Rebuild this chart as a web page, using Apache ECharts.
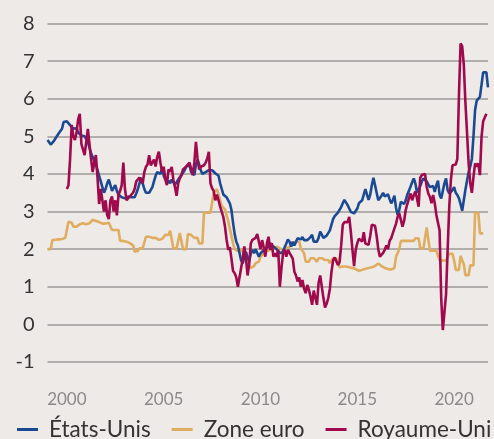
<!DOCTYPE html>
<html><head><meta charset="utf-8">
<script src="https://cdn.jsdelivr.net/npm/echarts@6/dist/echarts.min.js"></script>
<style>html,body{margin:0;padding:0;background:#eeeae7;}#c{width:494px;height:439px;}</style>
</head><body><div id="c"></div>
<script>
// Monthly data, first month = January 1999
const startYear = 1999;
const seriesNames = ['États-Unis', 'Zone euro', 'Royaume-Uni'];
const xTickLabels = [2000, 2005, 2010, 2015, 2020];
const yTicks = [-1, 0, 1, 2, 3, 4, 5, 6, 7, 8];

// États-Unis, from Jan 1999
const usValues = [
 4.9,4.85,4.78,4.8,4.88,4.95,5.0,5.08,5.12,5.2,5.38,5.4,
 5.4,5.35,5.3,5.3,5.2,5.15,5.22,5.1,5.05,5.02,5.0,5.0,
 4.95,4.85,4.7,4.55,4.45,4.35,4.25,4.1,3.95,3.8,3.65,3.5,
 3.6,3.75,3.85,3.7,3.55,3.6,3.7,3.55,3.45,3.4,3.38,3.4,
 3.35,3.35,3.4,3.4,3.38,3.35,3.38,3.48,3.6,3.75,3.9,3.75,
 3.6,3.5,3.55,3.5,3.55,3.65,3.8,3.95,4.05,4.1,4.0,4.15,
 3.95,3.85,3.75,3.82,3.75,3.85,3.78,3.72,3.78,3.85,3.8,3.97,
 3.95,4.1,4.2,4.15,4.23,4.05,4.1,3.97,4.25,4.37,4.25,4.1,
 4.0,3.97,4.05,4.1,4.1,4.1,4.1,4.05,4.02,4.0,3.95,3.75,
 3.6,3.45,3.4,3.38,3.3,3.22,3.04,2.7,2.4,2.2,2.1,1.9,
 1.7,1.62,1.8,1.93,1.78,1.67,1.89,1.98,1.89,2.0,1.9,1.8,
 1.89,1.93,1.98,1.93,2.02,2.07,2.16,2.2,2.07,2.11,2.0,1.93,
 1.98,1.89,1.95,2.05,2.15,2.26,2.2,2.07,2.2,2.1,2.2,2.29,
 2.32,2.26,2.32,2.24,2.2,2.24,2.2,2.32,2.38,2.2,2.15,2.2,
 2.3,2.47,2.45,2.3,2.33,2.36,2.4,2.5,2.65,2.8,2.88,2.93,
 2.97,3.02,3.12,3.22,3.31,3.3,3.17,3.08,2.99,3.04,2.95,2.99,
 3.08,3.22,3.17,3.3,3.45,3.6,3.45,3.31,3.45,3.7,3.9,3.85,
 3.5,3.3,3.3,3.42,3.5,3.4,3.35,3.46,3.33,3.22,3.3,3.42,
 3.1,2.91,3.04,3.26,3.31,3.2,3.3,3.45,3.55,3.6,3.78,3.88,
 3.75,3.5,3.55,3.68,3.8,3.88,3.88,3.8,3.72,3.65,3.62,3.68,
 3.52,3.7,3.82,3.45,3.35,3.55,3.75,3.88,3.57,3.48,3.48,3.57,
 3.65,3.5,3.44,3.35,3.2,3.02,3.3,3.58,3.82,4.05,4.2,4.4,
 5.0,5.7,5.95,6.0,6.05,6.1,6.7,6.7,6.7,6.3
];

// Zone euro, from Jan 1999
const euroValues = [
 2.0,2.0,2.0,2.24,2.24,2.25,2.25,2.26,2.27,2.27,2.28,2.3,
 2.32,2.73,2.73,2.7,2.6,2.6,2.6,2.64,2.66,2.66,2.69,2.69,
 2.66,2.66,2.69,2.69,2.78,2.78,2.75,2.72,2.72,2.68,2.68,2.7,
 2.68,2.66,2.7,2.7,2.51,2.51,2.51,2.51,2.51,2.22,2.22,2.22,
 2.22,2.2,2.2,2.16,2.13,2.1,1.93,1.93,1.95,2.02,2.02,2.02,
 2.05,2.33,2.33,2.33,2.33,2.3,2.3,2.3,2.25,2.25,2.25,2.27,
 2.27,2.38,2.38,2.38,2.49,2.49,2.02,2.02,2.02,2.02,2.43,2.43,
 2.0,2.0,2.0,2.4,2.4,2.38,2.38,2.3,2.3,2.3,2.15,2.15,
 2.15,2.97,2.97,2.97,2.97,2.97,2.98,3.5,3.55,3.6,3.65,3.3,
 3.15,3.12,3.05,2.9,2.75,2.55,2.35,2.15,2.0,1.95,1.95,1.98,
 2.0,1.95,1.85,1.7,1.6,1.55,1.5,1.5,1.55,1.63,1.67,1.67,
 1.8,1.85,1.89,1.92,1.95,1.98,1.98,2.0,2.02,2.05,2.07,2.05,
 2.02,2.0,1.98,2.0,2.02,2.05,2.07,2.09,2.11,2.15,2.2,2.2,
 2.2,2.02,1.98,1.89,1.67,1.67,1.67,1.76,1.76,1.76,1.72,1.67,
 1.76,1.76,1.76,1.76,1.71,1.71,1.71,1.63,1.63,1.76,1.8,1.76,
 1.76,1.52,1.54,1.54,1.54,1.54,1.54,1.52,1.5,1.5,1.5,1.47,
 1.45,1.42,1.42,1.45,1.45,1.48,1.48,1.5,1.52,1.52,1.52,1.55,
 1.6,1.62,1.6,1.55,1.52,1.5,1.48,1.47,1.46,1.46,1.46,1.5,
 1.8,1.85,2.0,2.22,2.22,2.22,2.22,2.22,2.22,2.22,2.22,2.22,
 2.29,2.29,2.29,2.02,2.02,2.02,2.02,2.58,2.58,1.96,1.96,1.96,
 1.96,1.96,1.96,1.7,1.7,1.7,1.7,1.7,1.7,1.88,1.88,1.88,
 1.7,1.45,1.45,1.45,1.82,1.82,1.6,1.31,1.31,1.31,1.57,1.57,
 1.57,2.97,2.97,2.97,2.42,2.42,2.42
];

// Royaume-Uni, from Jan 2000
const ukStartYear = 2000;
const ukValues = [
 3.6,3.7,4.4,5.3,5.0,4.9,5.1,5.45,5.6,4.8,4.8,4.5,
 4.5,5.2,5.15,4.4,4.05,4.3,4.5,3.9,3.2,3.6,3.3,3.0,
 3.3,2.9,2.8,3.3,3.4,3.0,3.3,2.9,3.45,3.55,3.7,4.3,
 3.6,3.3,3.3,3.4,3.35,3.5,3.6,3.8,3.8,3.9,3.85,3.75,
 4.05,4.19,4.25,4.5,4.23,4.23,4.38,4.2,4.45,4.59,4.3,4.06,
 4.19,3.88,3.7,4.12,4.06,4.19,3.84,3.65,3.42,3.75,3.88,3.97,
 4.12,4.1,4.2,4.19,4.3,4.28,3.97,4.3,4.85,4.4,4.12,4.19,
 4.19,4.23,4.3,4.41,4.59,3.75,3.62,3.55,3.3,3.45,3.3,3.13,
 3.08,2.85,2.6,2.25,1.98,2.05,1.75,1.42,1.36,1.25,1.0,1.05,
 1.5,1.75,2.07,1.75,1.3,1.6,2.15,2.25,2.2,2.3,2.4,2.42,
 2.0,2.24,2.05,1.8,2.16,2.33,1.98,2.16,1.8,1.89,1.8,1.98,
 1.0,1.5,1.89,1.98,1.8,1.98,1.9,1.93,1.75,1.4,1.3,1.14,
 1.25,1.0,1.18,0.95,0.83,1.05,0.92,0.74,0.52,0.9,0.85,0.52,
 1.1,1.3,1.0,0.7,0.45,0.55,0.7,0.95,1.4,1.7,1.78,1.75,
 1.58,1.65,2.1,2.65,2.72,2.7,2.72,2.86,2.45,1.98,1.55,1.98,
 2.16,2.28,2.33,2.2,2.45,2.15,2.16,2.12,2.35,2.65,2.7,2.62,
 2.35,2.0,1.8,1.78,1.9,1.98,2.1,2.0,2.22,2.29,2.42,2.4,
 2.68,2.86,2.95,2.78,2.6,2.75,3.04,3.2,3.35,3.48,3.3,3.44,
 3.53,3.35,3.13,3.9,3.97,3.92,4.0,3.66,3.48,3.39,3.22,3.44,
 3.22,2.91,2.86,2.5,0.7,-0.15,-0.2,0.8,2.0,3.13,3.84,4.23,
 4.28,4.25,4.4,6.1,7.47,7.4,6.9,5.9,5.1,4.28,3.75,3.5,
 3.92,4.28,4.19,4.28,3.97,4.99,5.4,5.5,5.6
];

function toPairs(values, y0) {
  return values.map((v, i) => [y0 + i / 12, v]);
}
const colors = ['#1b4a93', '#dfad5f', '#a0094c'];
const lastX = startYear + (usValues.length - 1) / 12;

const chart = echarts.init(document.getElementById('c'), null, {renderer: 'canvas'});
chart.setOption({
  backgroundColor: '#eeeae7',
  animation: false,
  color: colors,
  grid: {left: 47.5, right: 6, top: 23.5, bottom: 77, containLabel: false},
  xAxis: {
    type: 'value', min: startYear, max: lastX,
    axisLine: {show: false}, axisTick: {show: false}, splitLine: {show: false},
    axisLabel: {customValues: xTickLabels, color: '#8a8a8a', fontSize: 17,
      fontFamily: 'Lato', margin: 29, formatter: v => String(Math.round(v))}
  },
  yAxis: {
    type: 'value', min: yTicks[0], max: yTicks[yTicks.length - 1], interval: 1,
    axisLine: {show: false}, axisTick: {show: false},
    splitLine: {lineStyle: {color: '#9a9a9a', width: 1.5}},
    axisLabel: {color: '#333', fontSize: 20, fontFamily: 'Lato', margin: 13}
  },
  legend: {
    left: 17, top: 418, width: 1000, padding: 0, itemWidth: 21, itemHeight: 3, itemGap: 21,
    icon: 'rect',
    textStyle: {fontSize: 22.5, color: '#333', fontFamily: 'Lato', padding: [0, 0, 0, 6]},
    data: seriesNames
  },
  series: [
    {name: seriesNames[0], type: 'line', showSymbol: false, data: toPairs(usValues, startYear),
      lineStyle: {width: 2.6}, z: 3},
    {name: seriesNames[1], type: 'line', showSymbol: false, data: toPairs(euroValues, startYear),
      lineStyle: {width: 2.6}, z: 2},
    {name: seriesNames[2], type: 'line', showSymbol: false, data: toPairs(ukValues, ukStartYear),
      lineStyle: {width: 2.6}, z: 4}
  ]
});
</script></body></html>
